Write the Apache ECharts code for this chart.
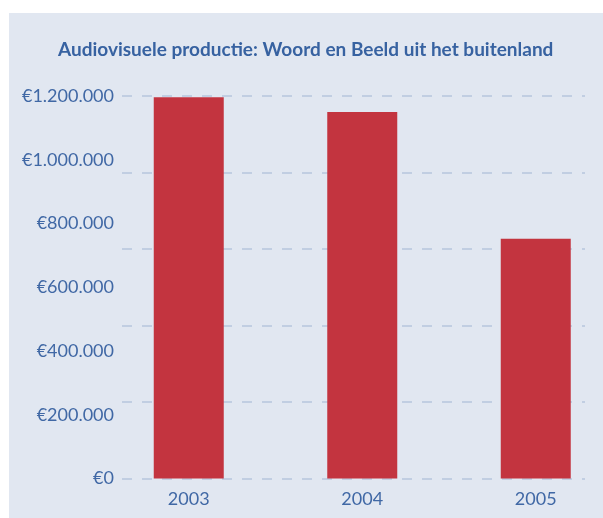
<!DOCTYPE html>
<html>
<head>
<meta charset="utf-8">
<script src="https://cdn.jsdelivr.net/npm/echarts@6/dist/echarts.min.js"></script>
<style>
  html, body { margin: 0; padding: 0; background: #fff; }
  #chart { width: 603px; height: 518px; }
</style>
</head>
<body>
<div id="chart"></div>
<script>
  // data
  var years = ['2003', '2004', '2005'];
  var amounts = [1196000, 1150000, 752000];
  var labelStep = 200000;   // tick labels run in steps of 200.000
  var gridStep = 240000;    // the dashed lines are spaced differently in the original
  var axisMax = 1200000;

  function euro(v) {
    return '€' + String(v).replace(/\B(?=(\d{3})+(?!\d))/g, '.');
  }

  var blue = '#4068a5';
  var chart = echarts.init(document.getElementById('chart'));

  chart.setOption({
    backgroundColor: '#ffffff',
    animation: false,
    graphic: [{
      type: 'rect',
      z: -10,
      silent: true,
      shape: { x: 9, y: 13, width: 594, height: 505 },
      style: { fill: '#e1e7f1' }
    }],
    title: {
      text: 'Audiovisuele productie: Woord en Beeld uit het buitenland',
      left: 58,
      top: 40,
      padding: 0,
      textStyle: { fontFamily: 'Lato', fontWeight: 'bold', fontSize: 19, color: '#3762a1' }
    },
    grid: [
      { left: 122, right: 18, top: 96, bottom: 39.5, outerBoundsMode: 'none', containLabel: false },
      { left: 102, width: 520.5, top: 96, bottom: 39.5, outerBoundsMode: 'none', containLabel: false }
    ],
    xAxis: [
      { gridIndex: 0, type: 'category', data: years, show: false },
      {
        gridIndex: 1, type: 'category', data: years,
        axisLine: { show: false }, axisTick: { show: false },
        axisLabel: { margin: 12, fontFamily: 'Lato', fontSize: 18, color: blue }
      }
    ],
    yAxis: [
      {
        gridIndex: 0, type: 'value', min: 0, max: axisMax, interval: labelStep,
        axisLine: { show: false }, axisTick: { show: false }, splitLine: { show: false },
        axisLabel: { margin: 8, fontFamily: 'Lato', fontSize: 18, color: blue, formatter: euro }
      },
      {
        gridIndex: 0, type: 'value', min: 0, max: axisMax, interval: gridStep, position: 'left',
        axisLine: { show: false }, axisTick: { show: false }, axisLabel: { show: false },
        splitLine: { show: true, lineStyle: { color: '#b6c6dd', width: 1.5, type: [10, 10] } }
      },
      { gridIndex: 1, type: 'value', min: 0, max: axisMax, show: false, splitLine: { show: false } }
    ],
    series: [{
      type: 'bar',
      xAxisIndex: 1,
      yAxisIndex: 2,
      data: amounts,
      barWidth: 70,
      itemStyle: { color: '#c3343f' }
    }]
  });
</script>
</body>
</html>
